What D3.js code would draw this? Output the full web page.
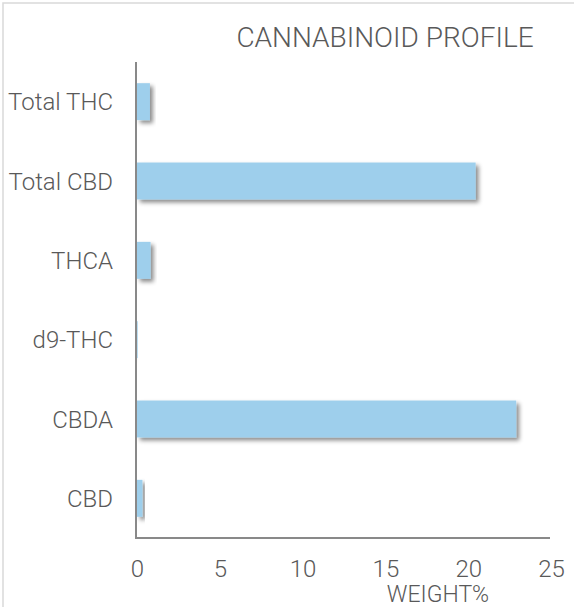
<!DOCTYPE html>
<html>
<head>
<meta charset="utf-8">
<script src="https://cdn.jsdelivr.net/npm/d3@7"></script>
<style>
  html, body { margin: 0; padding: 0; background: #fff; }
  svg { display: block; }
  text { font-family: Roboto, "Liberation Sans", sans-serif; font-weight: 300; fill: #595959; }
</style>
</head>
<body>
<svg id="chart" width="574" height="607"></svg>
<script>
const categories = ["Total THC", "Total CBD", "THCA", "d9-THC", "CBDA", "CBD"];
const values = [0.78, 20.45, 0.82, 0.04, 22.9, 0.33];
const xTicks = [0, 5, 10, 15, 20, 25];
const title = "CANNABINOID PROFILE";
const xTitle = "WEIGHT%";

(function () {
const data = categories.map((c, i) => ({ name: c, value: values[i] }));

const svg = d3.select("#chart");

// outer chart border
svg.append("rect")
  .attr("x", 3).attr("y", 3)
  .attr("width", 700).attr("height", 700)
  .attr("fill", "none").attr("stroke", "#d9d9d9").attr("stroke-width", 1.5);

const defs = svg.append("defs");
const f = defs.append("filter").attr("id", "shadow")
  .attr("x", "-20%").attr("y", "-30%").attr("width", "160%").attr("height", "180%");
f.append("feDropShadow")
  .attr("dx", 3).attr("dy", 3).attr("stdDeviation", 2)
  .attr("flood-color", "#000").attr("flood-opacity", 0.45);

const mLeft = 137, mRight = 551, mTop = 62, mBottom = 538;

const x = d3.scaleLinear().domain([0, 25]).range([mLeft, mRight]);
const y = d3.scaleBand().domain(categories).range([mTop, mBottom])
  .paddingInner(0.534).paddingOuter(0.267);

svg.append("g").selectAll("rect").data(data).join("rect")
  .attr("x", x(0))
  .attr("y", d => y(d.name))
  .attr("width", d => Math.max(0, x(d.value) - x(0)))
  .attr("height", y.bandwidth())
  .attr("fill", "#9ecfec")
  .attr("filter", "url(#shadow)");

const xAxis = svg.append("g")
  .attr("transform", `translate(0,${mBottom})`)
  .call(d3.axisBottom(x).tickValues(xTicks).tickSize(0).tickSizeOuter(0).tickPadding(22).tickFormat(d3.format("d")));
xAxis.select(".domain").attr("stroke", "#898989").attr("stroke-width", 2)
  .attr("d", `M${mLeft - 1},0H${mRight - 1}`);
xAxis.selectAll("text").style("font-size", "24px").style("font-family", "Roboto, sans-serif")
  .style("font-weight", 300).attr("fill", "#595959");

const yAxis = svg.append("g")
  .attr("transform", `translate(${mLeft - 1},0)`)
  .call(d3.axisLeft(y).tickSize(0).tickSizeOuter(0).tickPadding(23));
yAxis.select(".domain").attr("stroke", "#898989").attr("stroke-width", 2)
  .attr("d", `M0,${mTop}V${mBottom + 1}`);
yAxis.selectAll("text").style("font-size", "24px").style("font-family", "Roboto, sans-serif")
  .style("font-weight", 300).attr("fill", "#595959").attr("dy", "0.36em");

svg.append("text")
  .attr("x", 385).attr("y", 47)
  .attr("text-anchor", "middle")
  .style("font-size", "28px")
  .text(title);

svg.append("text")
  .attr("x", 438).attr("y", 602)
  .attr("text-anchor", "middle")
  .style("font-size", "23px")
  .text(xTitle);
})();
</script>
</body>
</html>
